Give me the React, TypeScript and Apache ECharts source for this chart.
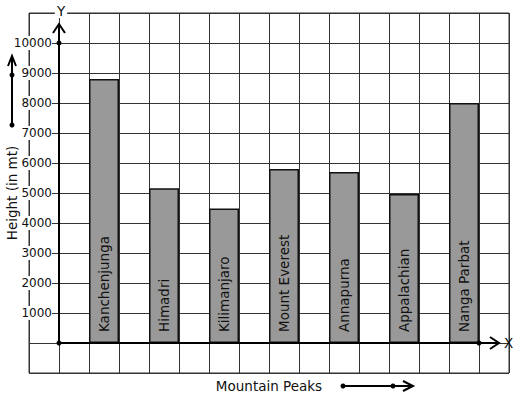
import React, { useEffect, useRef } from "react";
import * as echarts from "echarts";

const peaks = ["Kanchenjunga", "Himadri", "Kilimanjaro", "Mount Everest", "Annapurna", "Appalachian", "Nanga Parbat"];
const heights = [8800, 5160, 4480, 5800, 5700, 4970, 8000];
const peakSlots = [2, 4, 6, 8, 10, 12, 14];
const slotCount = 16;
const yLabelValues = [1000, 2000, 3000, 4000, 5000, 6000, 7000, 8000, 9000, 10000];
const yMin = -1000;
const yMax = 11000;
const yStep = 1000;

const FONT = "DejaVu Sans";

export default function App() {
  const ref = useRef<HTMLDivElement>(null);
  useEffect(() => {
    if (!ref.current) return;
    const chart = echarts.init(ref.current, undefined, { renderer: "svg" });

    const slotNames: string[] = [];
    const values: any[] = [];
    for (let i = 0; i < slotCount; i++) {
      const k = peakSlots.indexOf(i);
      slotNames.push(k >= 0 ? peaks[k] : "slot" + i);
      values.push(k >= 0 ? heights[k] : "-");
    }

    chart.setOption({
      animation: false,
      textStyle: { fontFamily: FONT },
      grid: {
        left: 29, top: 13, width: 480, height: 360,
        outerBoundsMode: "none", containLabel: false,
        show: true, borderColor: "#333", borderWidth: 1, backgroundColor: "#fff",
      },
      xAxis: {
        type: "category",
        data: slotNames,
        axisLine: { show: false, onZero: false },
        axisTick: { show: false },
        axisLabel: { show: false },
        splitLine: { show: true, interval: 0, lineStyle: { color: "#333", width: 1 } },
        name: "Mountain Peaks",
        nameLocation: "middle",
        nameGap: 6,
        nameMoveOverlap: false,
        nameTextStyle: { fontSize: 13.5, color: "#111", fontFamily: FONT },
      },
      yAxis: {
        type: "value",
        min: yMin,
        max: yMax,
        interval: yStep,
        offset: -30,
        z: 3,
        axisLine: { show: false },
        axisTick: { show: false },
        splitLine: { show: true, lineStyle: { color: "#333", width: 1 } },
        axisLabel: {
          formatter: (v: number) => (yLabelValues.indexOf(v) >= 0 ? String(v) : ""),
          margin: 7,
          fontSize: 12,
          color: "#111",
          fontFamily: FONT,
          backgroundColor: "#fff",
          padding: [1, 0, 1, 0],
        },
        name: "Height (in mt)",
        nameLocation: "middle",
        nameGap: 40,
        nameMoveOverlap: false,
        nameTextStyle: { fontSize: 13.5, color: "#111", fontFamily: FONT },
      },
      series: [
        {
          type: "bar",
          data: values,
          barWidth: "100%",
          z: 5,
          itemStyle: { color: "#999999", borderColor: "#111", borderWidth: 1.5 },
          label: {
            show: true,
            position: "insideBottom",
            rotate: 90,
            align: "left",
            verticalAlign: "middle",
            distance: 11,
            fontSize: 13.5,
            color: "#111",
            fontFamily: FONT,
            formatter: (p: any) => p.name,
          },
        },
      ],
    });

    const xAt = (i: number) => chart.convertToPixel({ xAxisIndex: 0 }, i) as number;
    const yAt = (v: number) => chart.convertToPixel({ yAxisIndex: 0 }, v) as number;
    const bw = xAt(1) - xAt(0);
    const ox = xAt(0) + bw / 2;
    const oy = yAt(0);
    const yTopDot = yAt(10000);
    const yTip = yAt(yMax) + 11;
    const xEndDot = xAt(slotCount - 2) + bw / 2;
    const xTip = xAt(slotCount - 1) + bw / 2 - 10;
    const black = "#000";
    const lw = 2;
    const stroke = { stroke: black, lineWidth: lw, fill: "none" };

    const nameY = 386;
    const arrowStart = 343;
    const arrowMid = 393;
    const arrowEnd = 413;
    const leftX = 12;

    chart.setOption({
      graphic: [
        { type: "line", z: 100, shape: { x1: ox, y1: oy, x2: ox, y2: yTip }, style: stroke },
        { type: "polyline", z: 100, shape: { points: [[ox - 6, yTip + 9], [ox, yTip], [ox + 6, yTip + 9]] }, style: stroke },
        { type: "line", z: 100, shape: { x1: ox, y1: oy, x2: xTip, y2: oy }, style: stroke },
        { type: "polyline", z: 100, shape: { points: [[xTip - 9, oy - 6], [xTip, oy], [xTip - 9, oy + 6]] }, style: stroke },
        { type: "circle", z: 101, shape: { cx: ox, cy: oy, r: 2.5 }, style: { fill: black } },
        { type: "circle", z: 101, shape: { cx: ox, cy: yTopDot, r: 2.5 }, style: { fill: black } },
        { type: "circle", z: 101, shape: { cx: xEndDot, cy: oy, r: 2.5 }, style: { fill: black } },
        {
          type: "text", z: 101, x: ox + 2, y: 11,
          style: { text: "Y", fontSize: 13.5, fontFamily: FONT, fill: "#111", align: "center", verticalAlign: "middle", backgroundColor: "#fff", padding: [0, 2] },
        },
        {
          type: "text", z: 101, x: xTip + 5, y: oy,
          style: { text: "X", fontSize: 13.5, fontFamily: FONT, fill: "#111", align: "left", verticalAlign: "middle" },
        },
        { type: "line", z: 100, shape: { x1: arrowStart, y1: nameY, x2: arrowEnd, y2: nameY }, style: stroke },
        { type: "polyline", z: 100, shape: { points: [[arrowEnd - 10, nameY - 5], [arrowEnd, nameY], [arrowEnd - 10, nameY + 5]] }, style: stroke },
        { type: "circle", z: 101, shape: { cx: arrowStart, cy: nameY, r: 2.5 }, style: { fill: black } },
        { type: "circle", z: 101, shape: { cx: arrowMid, cy: nameY, r: 2.5 }, style: { fill: black } },
        { type: "line", z: 100, shape: { x1: leftX, y1: 125, x2: leftX, y2: 56 }, style: stroke },
        { type: "polyline", z: 100, shape: { points: [[leftX - 4, 66], [leftX, 56], [leftX + 4, 66]] }, style: stroke },
        { type: "circle", z: 101, shape: { cx: leftX, cy: 125, r: 2.5 }, style: { fill: black } },
        { type: "circle", z: 101, shape: { cx: leftX, cy: 75, r: 2.5 }, style: { fill: black } },
      ],
    });

    return () => chart.dispose();
  }, []);

  return <div ref={ref} style={{ position: "fixed", left: 0, top: 0, width: 517, height: 399, background: "#fff" }} />;
}
